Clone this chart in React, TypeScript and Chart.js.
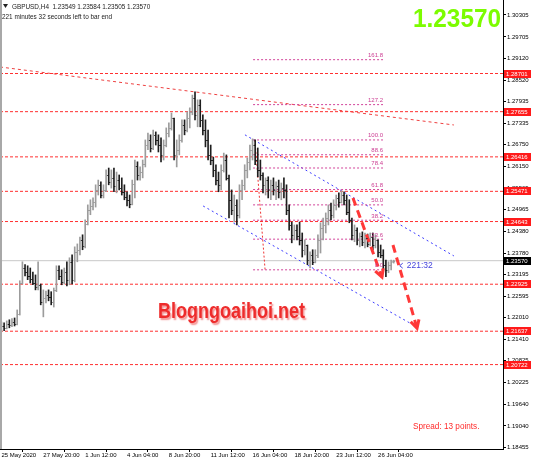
import React, { useEffect, useRef } from "react";
import { Chart, registerables } from "chart.js";
Chart.register(...registerables);

// ---- OHLC data (GBPUSD H4) ----
const opens = [
  1.2167, 1.2178, 1.2173, 1.2184, 1.2181, 1.2189, 1.2184, 1.2211, 1.2296, 1.2337,
  1.2326, 1.2315, 1.2307, 1.2296, 1.2285, 1.2291, 1.2244, 1.2255, 1.2263, 1.2258,
  1.2244, 1.2277, 1.2332, 1.2315, 1.2299, 1.2326, 1.2305, 1.2354, 1.2305, 1.2381,
  1.2387, 1.2414, 1.2398, 1.2458, 1.2496, 1.2507, 1.2518, 1.2551, 1.2565, 1.2537,
  1.2551, 1.2592, 1.2573, 1.2584, 1.2562, 1.2578, 1.2556, 1.2546, 1.2532, 1.2524,
  1.2513, 1.2567, 1.2617, 1.2592, 1.26, 1.2622, 1.2674, 1.2688, 1.2666, 1.2702,
  1.2688, 1.2674, 1.2647, 1.2674, 1.2707, 1.2721, 1.2748, 1.2647, 1.2661, 1.2688,
  1.2729, 1.2715, 1.2748, 1.2765, 1.2803, 1.2757, 1.2784, 1.2743, 1.2715, 1.2688,
  1.2647, 1.2633, 1.2606, 1.2578, 1.2565, 1.2606, 1.2633, 1.2584, 1.2524, 1.2496,
  1.251, 1.2483, 1.2551, 1.2565, 1.2606, 1.2628, 1.2661, 1.2674, 1.2633, 1.2606,
  1.2592, 1.2565, 1.2578, 1.2551, 1.2565, 1.2551, 1.2562, 1.2546, 1.2556, 1.2551,
  1.2496, 1.2455, 1.2428, 1.2441, 1.2425, 1.2414, 1.2387, 1.24, 1.2359, 1.2373,
  1.2354, 1.2373, 1.2414, 1.2447, 1.2455, 1.2474, 1.2496, 1.2483, 1.251, 1.2529,
  1.2518, 1.2537, 1.2524, 1.2491, 1.2469, 1.2428, 1.2441, 1.2414, 1.2425, 1.2409,
  1.242, 1.2403, 1.2422, 1.24, 1.2414, 1.2381, 1.2373, 1.2346, 1.2332, 1.2346,
  1.23549,
];
const highs = [
  1.2189, 1.2187, 1.2192, 1.2195, 1.2198, 1.22, 1.2222, 1.2302, 1.2354, 1.2346,
  1.2343, 1.2337, 1.2326, 1.2318, 1.2354, 1.2293, 1.2277, 1.2274, 1.2277, 1.2272,
  1.2282, 1.2343, 1.2343, 1.2332, 1.2337, 1.2354, 1.2365, 1.2373, 1.2395, 1.2403,
  1.2422, 1.2428, 1.2469, 1.251, 1.2524, 1.2529, 1.2565, 1.2578, 1.2573, 1.2565,
  1.2606, 1.2611, 1.2606, 1.2611, 1.26, 1.2592, 1.2584, 1.2565, 1.2546, 1.2537,
  1.2578, 1.2633, 1.2628, 1.2614, 1.2633, 1.2688, 1.2707, 1.2702, 1.2715, 1.271,
  1.2702, 1.2694, 1.2688, 1.2721, 1.2735, 1.2762, 1.2748, 1.2688, 1.2702, 1.2743,
  1.2743, 1.2765, 1.2776, 1.2811, 1.282, 1.2798, 1.2798, 1.2757, 1.2743, 1.2715,
  1.2674, 1.2641, 1.262, 1.26, 1.262, 1.2652, 1.2647, 1.2592, 1.2551, 1.2537,
  1.2524, 1.2565, 1.2578, 1.262, 1.2639, 1.2674, 1.2691, 1.2688, 1.2666, 1.2633,
  1.2598, 1.2584, 1.2587, 1.2578, 1.2584, 1.2573, 1.2578, 1.257, 1.2584, 1.2565,
  1.251, 1.2463, 1.2455, 1.2455, 1.2463, 1.2433, 1.2414, 1.24, 1.2381, 1.2387,
  1.2387, 1.2428, 1.2461, 1.2474, 1.2488, 1.251, 1.2515, 1.2524, 1.2537, 1.2543,
  1.2548, 1.2546, 1.2537, 1.2524, 1.2474, 1.2455, 1.2447, 1.2433, 1.2436, 1.2433,
  1.243, 1.2433, 1.2433, 1.2428, 1.2414, 1.24, 1.2387, 1.2359, 1.2354, 1.2359,
  1.23584,
];
const lows = [
  1.2162, 1.2165, 1.217, 1.2173, 1.2176, 1.2178, 1.2181, 1.2208, 1.2293, 1.2315,
  1.2305, 1.2296, 1.2291, 1.2277, 1.2277, 1.2236, 1.2203, 1.2241, 1.2247, 1.2236,
  1.223, 1.2272, 1.2305, 1.2291, 1.2293, 1.2288, 1.2291, 1.2293, 1.2299, 1.2354,
  1.2373, 1.2387, 1.2392, 1.2455, 1.2483, 1.2496, 1.2504, 1.2537, 1.2529, 1.2529,
  1.2546, 1.2565, 1.2556, 1.2546, 1.2543, 1.2551, 1.2537, 1.2524, 1.2507, 1.2502,
  1.251, 1.2529, 1.2578, 1.2578, 1.2584, 1.2614, 1.2661, 1.2655, 1.2661, 1.2674,
  1.2655, 1.2628, 1.2633, 1.2669, 1.2696, 1.2715, 1.2633, 1.2614, 1.2647, 1.2682,
  1.2702, 1.271, 1.2721, 1.2757, 1.2743, 1.2724, 1.2724, 1.2702, 1.2669, 1.2633,
  1.262, 1.2587, 1.2565, 1.2546, 1.2551, 1.26, 1.2578, 1.2474, 1.2483, 1.2463,
  1.2455, 1.2474, 1.2524, 1.2551, 1.2584, 1.2606, 1.2633, 1.262, 1.2587, 1.2578,
  1.2543, 1.2537, 1.2529, 1.2524, 1.2537, 1.2524, 1.2529, 1.2524, 1.2529, 1.2483,
  1.2441, 1.2406, 1.2414, 1.2414, 1.24, 1.2367, 1.2373, 1.2346, 1.2337, 1.2346,
  1.2351, 1.2365, 1.2378, 1.2414, 1.2433, 1.2455, 1.2469, 1.2474, 1.2496, 1.2504,
  1.2515, 1.251, 1.2483, 1.2461, 1.2414, 1.2409, 1.24, 1.2395, 1.2398, 1.2392,
  1.2395, 1.2398, 1.2387, 1.2392, 1.2367, 1.2365, 1.2332, 1.2313, 1.2324, 1.2332,
  1.23505,
];
const closes = [
  1.2178, 1.2173, 1.2184, 1.2181, 1.2189, 1.2184, 1.2211, 1.2296, 1.2337, 1.2326,
  1.2315, 1.2307, 1.2296, 1.2285, 1.2291, 1.2244, 1.2255, 1.2263, 1.2258, 1.2244,
  1.2277, 1.2332, 1.2315, 1.2299, 1.2326, 1.2305, 1.2354, 1.2305, 1.2381, 1.2387,
  1.2414, 1.2398, 1.2458, 1.2496, 1.2507, 1.2518, 1.2551, 1.2565, 1.2537, 1.2551,
  1.2592, 1.2573, 1.2584, 1.2562, 1.2578, 1.2556, 1.2546, 1.2532, 1.2524, 1.2513,
  1.2567, 1.2617, 1.2592, 1.26, 1.2622, 1.2674, 1.2688, 1.2666, 1.2702, 1.2688,
  1.2674, 1.2647, 1.2674, 1.2707, 1.2721, 1.2748, 1.2647, 1.2661, 1.2688, 1.2729,
  1.2715, 1.2748, 1.2765, 1.2803, 1.2757, 1.2784, 1.2743, 1.2715, 1.2688, 1.2647,
  1.2633, 1.2606, 1.2578, 1.2565, 1.2606, 1.2633, 1.2584, 1.2524, 1.2496, 1.251,
  1.2483, 1.2551, 1.2565, 1.2606, 1.2628, 1.2661, 1.2674, 1.2633, 1.2606, 1.2592,
  1.2565, 1.2578, 1.2551, 1.2565, 1.2551, 1.2562, 1.2546, 1.2556, 1.2551, 1.2496,
  1.2455, 1.2428, 1.2441, 1.2425, 1.2414, 1.2387, 1.24, 1.2359, 1.2373, 1.2354,
  1.2373, 1.2414, 1.2447, 1.2455, 1.2474, 1.2496, 1.2483, 1.251, 1.2529, 1.2518,
  1.2537, 1.2524, 1.2491, 1.2469, 1.2428, 1.2441, 1.2414, 1.2425, 1.2409, 1.242,
  1.2403, 1.2422, 1.24, 1.2414, 1.2381, 1.2373, 1.2346, 1.2332, 1.2346, 1.2354,
  1.2357,
];

// ---- axes ----
const xTickIndex = [0, 16, 32, 48, 64, 80, 96, 112, 128, 144];
const xTickLabels = [
  "25 May 2020", "27 May 20:00", "1 Jun 12:00", "4 Jun 04:00", "8 Jun 20:00",
  "11 Jun 12:00", "16 Jun 04:00", "18 Jun 20:00", "23 Jun 12:00", "26 Jun 04:00",
];
const yTickValues = [
  1.30305, 1.29705, 1.2912, 1.2852, 1.27935, 1.27335, 1.2675, 1.2615, 1.25565,
  1.24965, 1.2438, 1.2378, 1.23195, 1.22595, 1.2201, 1.2141, 1.20825, 1.20225,
  1.1964, 1.1904, 1.18455,
];
const X_MIN = -0.574;
const X_MAX = 191.78;
const Y_MIN = 1.18408;
const Y_MAX = 1.30716;

// ---- drawn objects ----
const levelValues = [1.28701, 1.27655, 1.26416, 1.25471, 1.24643, 1.22925, 1.21637, 1.20722];
const currentPrice = 1.2357;
const headerText = "GBPUSD,H4  1.23549 1.23584 1.23505 1.23570";
const timerText = "221 minutes 32 seconds left to bar end";
const countdownText = "221:32";
const spreadText = "Spread: 13 points.";
const watermarkText = "Blogngoaihoi.net";
const fibPercents = [0, 23.6, 38.2, 50, 61.8, 78.4, 88.6, 100, 127.2, 161.8];
const fibLabels = ["0.0", "23.6", "38.2", "50.0", "61.8", "78.4", "88.6", "100.0", "127.2", "161.8"];
const fibLow = 1.2332;
const fibHigh = 1.2688;
const fibStartIdx = 96.2;
const fibEndIdx = 145.9;
const fibDiagonal = [{ x: 96.9, y: 1.2688 }, { x: 100.8, y: 1.2332 }];
const trendRed = [{ x: -0.57, y: 1.2888 }, { x: 173.0, y: 1.2729 }];
const channelUpper = [{ x: 93.1, y: 1.2702 }, { x: 173.0, y: 1.237 }];
const channelLower = [{ x: 77.1, y: 1.2507 }, { x: 158.9, y: 1.2175 }];
const arrowOne = [{ x: 134.4, y: 1.2529 }, { x: 145.5, y: 1.2312 }];
const arrowTwo = [{ x: 149.7, y: 1.24 }, { x: 158.9, y: 1.2172 }];

const UP = "#9c9c9c";
const DOWN = "#1e1e1e";
const FONT = "'Liberation Sans', Arial, sans-serif";

export default function App() {
  const ref = useRef<HTMLCanvasElement>(null);

  useEffect(() => {
    const canvas = ref.current;
    if (!canvas) return;

    const barData = highs.map((h, i) => ({ x: i, y: [lows[i], h] }));
    const barColors = closes.map((c, i) => (c >= opens[i] ? UP : DOWN));

    const lineDs = (data: any[], color: string, dash: number[], width = 1, order = 2) => ({
      type: "line" as const,
      data,
      borderColor: color,
      borderDash: dash,
      borderWidth: width,
      pointRadius: 0,
      fill: false,
      tension: 0,
      order,
    });

    const datasets: any[] = [];
    datasets.push({
      type: "bar",
      data: barData,
      backgroundColor: barColors,
      borderWidth: 0,
      barThickness: 1,
      order: 1,
    });
    datasets.push(lineDs([{ x: X_MIN, y: currentPrice }, { x: X_MAX, y: currentPrice }], "#c8c8c8", [], 1, 5));
    levelValues.forEach((v) =>
      datasets.push(lineDs([{ x: X_MIN, y: v }, { x: X_MAX, y: v }], "#ff3030", [3, 2], 1, 2))
    );
    fibPercents.forEach((p) => {
      const v = fibLow + ((fibHigh - fibLow) * p) / 100;
      datasets.push(lineDs([{ x: fibStartIdx, y: v }, { x: fibEndIdx, y: v }], "#d2449a", [2, 2], 1, 2));
    });
    datasets.push(lineDs(fibDiagonal, "#ee3333", [2, 2], 1, 2));
    datasets.push(lineDs(trendRed, "#ee4040", [3, 3], 1, 2));
    datasets.push(lineDs(channelUpper, "#3c3cff", [2, 3], 1, 2));
    datasets.push(lineDs(channelLower, "#3c3cff", [2, 3], 1, 2));
    datasets.push(lineDs(arrowOne, "#ff3838", [8, 5], 3, 0));
    datasets.push(lineDs(arrowTwo, "#ff3838", [8, 5], 3, 0));

    const overlay = {
      id: "overlay",
      afterDatasetsDraw(chart: any) {
        const { ctx } = chart;
        const xs = chart.scales.x;
        const ys = chart.scales.y;
        ctx.save();
        // open / close ticks
        ctx.lineWidth = 1;
        for (let i = 0; i < opens.length; i++) {
          const px = xs.getPixelForValue(i);
          ctx.strokeStyle = closes[i] >= opens[i] ? UP : DOWN;
          const yo = Math.round(ys.getPixelForValue(opens[i])) + 0.5;
          const yc = Math.round(ys.getPixelForValue(closes[i])) + 0.5;
          ctx.beginPath();
          ctx.moveTo(px - 1.4, yo);
          ctx.lineTo(px, yo);
          ctx.moveTo(px, yc);
          ctx.lineTo(px + 1.4, yc);
          ctx.stroke();
        }
        // arrow heads
        [arrowOne, arrowTwo].forEach((a) => {
          const x0 = xs.getPixelForValue(a[0].x), y0 = ys.getPixelForValue(a[0].y);
          const x1 = xs.getPixelForValue(a[1].x), y1 = ys.getPixelForValue(a[1].y);
          const ang = Math.atan2(y1 - y0, x1 - x0);
          const len = 9;
          ctx.strokeStyle = "#ff3838";
          ctx.lineWidth = 3;
          ctx.setLineDash([]);
          ctx.beginPath();
          ctx.moveTo(x1 - len * Math.cos(ang - 0.5), y1 - len * Math.sin(ang - 0.5));
          ctx.lineTo(x1, y1);
          ctx.lineTo(x1 - len * Math.cos(ang + 0.5), y1 - len * Math.sin(ang + 0.5));
          ctx.stroke();
        });
        // fib labels
        ctx.fillStyle = "#cc3d92";
        ctx.font = `6px ${FONT}`;
        ctx.textAlign = "right";
        ctx.textBaseline = "alphabetic";
        fibPercents.forEach((p, k) => {
          const v = fibLow + ((fibHigh - fibLow) * p) / 100;
          ctx.fillText(fibLabels[k], xs.getPixelForValue(fibEndIdx), ys.getPixelForValue(v) - 2.5);
        });
        // countdown
        const cy = ys.getPixelForValue(currentPrice) + 5;
        const cx = xs.getPixelForValue(opens.length - 1) + 6;
        ctx.strokeStyle = "#4444dd";
        ctx.lineWidth = 1;
        ctx.beginPath();
        ctx.moveTo(cx + 3, cy - 2.5);
        ctx.lineTo(cx, cy);
        ctx.lineTo(cx + 3, cy + 2.5);
        ctx.stroke();
        ctx.fillStyle = "#4444dd";
        ctx.font = `8.5px ${FONT}`;
        ctx.textAlign = "left";
        ctx.textBaseline = "middle";
        ctx.fillText(countdownText, cx + 7, cy);
        ctx.restore();
      },
      afterDraw(chart: any) {
        const { ctx, chartArea } = chart;
        const ys = chart.scales.y;
        ctx.save();
        // left frame
        ctx.fillStyle = "#a8a8a8";
        ctx.fillRect(0, 0, 2, chartArea.bottom);
        // level labels on axis
        ctx.font = `6px ${FONT}`;
        ctx.textAlign = "left";
        ctx.textBaseline = "middle";
        const box = (v: number, bg: string) => {
          const py = ys.getPixelForValue(v);
          ctx.fillStyle = bg;
          ctx.fillRect(chartArea.right + 1, Math.round(py) - 4, 27, 8);
          ctx.fillStyle = "#ffffff";
          ctx.fillText(v.toFixed(5), chartArea.right + 3, Math.round(py));
        };
        levelValues.forEach((v) => box(v, "#ff1a1a"));
        box(currentPrice, "#000000");
        // header
        ctx.fillStyle = "#222";
        ctx.beginPath();
        ctx.moveTo(3, 4);
        ctx.lineTo(8, 4);
        ctx.lineTo(5.5, 8);
        ctx.closePath();
        ctx.fill();
        ctx.font = `6.4px ${FONT}`;
        ctx.textBaseline = "alphabetic";
        ctx.fillText(headerText, 12, 9);
        ctx.fillText(timerText, 2, 18.5);
        // big price
        ctx.fillStyle = "#7cfc00";
        ctx.font = `bold 26px ${FONT}`;
        ctx.fillText(currentPrice.toFixed(5), 413, 26.5, 88);
        // spread
        ctx.fillStyle = "#ff2a2a";
        ctx.font = `8.2px ${FONT}`;
        ctx.fillText(spreadText, 413, 429);
        // watermark
        ctx.font = `bold 22px ${FONT}`;
        ctx.shadowColor = "rgba(240,120,120,0.8)";
        ctx.shadowOffsetX = 1.5;
        ctx.shadowOffsetY = 1.5;
        ctx.shadowBlur = 1.5;
        ctx.fillStyle = "#ee2c2c";
        ctx.fillText(watermarkText, 158, 318, 147);
        ctx.restore();
      },
    };

    const chart = new Chart(canvas, {
      type: "bar",
      data: { datasets },
      options: {
        animation: false,
        responsive: false,
        devicePixelRatio: 1,
        events: [],
        layout: { padding: 0 },
        plugins: { legend: { display: false }, tooltip: { enabled: false } },
        scales: {
          x: {
            type: "linear",
            min: X_MIN,
            max: X_MAX,
            offset: false,
            afterBuildTicks: (s: any) => {
              s.ticks = xTickIndex.map((v) => ({ value: v }));
            },
            afterFit: (s: any) => {
              s.height = 13;
              s.paddingLeft = 0;
              s.paddingRight = 0;
            },
            ticks: {
              callback: (v: any) => xTickLabels[xTickIndex.indexOf(Number(v))],
              align: "start",
              maxRotation: 0,
              autoSkip: false,
              padding: 0,
              color: "#000",
              font: { family: FONT, size: 6 },
            },
            grid: { drawOnChartArea: false, drawTicks: true, tickLength: 3, color: "#000" },
            border: { display: true, color: "#000" },
          },
          y: {
            type: "linear",
            position: "right",
            min: Y_MIN,
            max: Y_MAX,
            afterBuildTicks: (s: any) => {
              s.ticks = yTickValues.map((v) => ({ value: v }));
            },
            afterFit: (s: any) => {
              s.width = 31;
              s.paddingTop = 0;
              s.paddingBottom = 0;
            },
            ticks: {
              callback: (v: any) => Number(v).toFixed(5),
              autoSkip: false,
              padding: 1,
              color: "#000",
              font: { family: FONT, size: 6 },
            },
            grid: { drawOnChartArea: false, drawTicks: true, tickLength: 3, color: "#000" },
            border: { display: true, color: "#000" },
          },
        },
      } as any,
      plugins: [overlay],
    });

    return () => chart.destroy();
  }, []);

  return (
    <div style={{ position: "fixed", left: 0, top: 0, width: 534, height: 462, background: "#fff" }}>
      <canvas ref={ref} width={534} height={462} style={{ display: "block" }} />
    </div>
  );
}
